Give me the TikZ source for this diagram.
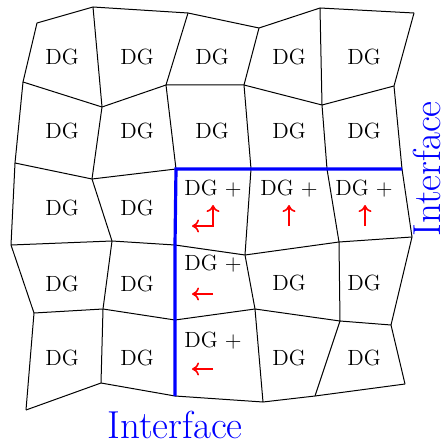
\documentclass[tikz,border=0pt]{standalone}
\usetikzlibrary{arrows.meta}
\begin{document}
\begin{tikzpicture}[x=0.5pt,y=-0.5pt,
  gridline/.style={line width=0.5pt, line join=round},
  iface/.style={blue, line width=1.6pt, line join=miter},
  dg/.style={font=\fontsize{11}{13}\selectfont, inner sep=0pt},
  lbl/.style={blue, font=\fontsize{19.5}{22}\selectfont, inner sep=0pt},
  flux/.style={red, line width=0.8pt, -{Computer Modern Rightarrow[length=3.5pt,width=6.5pt]}},
  fluxboth/.style={red, line width=0.8pt, {Computer Modern Rightarrow[length=3.5pt,width=6.5pt]}-{Computer Modern Rightarrow[length=3.5pt,width=6.5pt]}}
]
\useasboundingbox (0,0) rectangle (444,444);
% vertices
\coordinate (v00) at (37,23);  \coordinate (v10) at (93,7);   \coordinate (v20) at (188,13);
\coordinate (v30) at (259,28); \coordinate (v40) at (320,8);  \coordinate (v50) at (414,13);
\coordinate (v01) at (23,82);  \coordinate (v11) at (102,107);\coordinate (v21) at (166,85);
\coordinate (v31) at (244,85); \coordinate (v41) at (322,105);\coordinate (v51) at (394,86);
\coordinate (v02) at (15,163); \coordinate (v12) at (92,179); \coordinate (v22) at (176,169);
\coordinate (v32) at (251,169);\coordinate (v42) at (327,169);\coordinate (v52) at (402,169);
\coordinate (v03) at (11,245); \coordinate (v13) at (112,241);\coordinate (v23) at (175,245);
\coordinate (v33) at (245,255);\coordinate (v43) at (339,242);\coordinate (v53) at (412,237);
\coordinate (v04) at (34,313); \coordinate (v14) at (103,309);\coordinate (v24) at (175,320);
\coordinate (v34) at (255,309);\coordinate (v44) at (340,321);\coordinate (v54) at (391,325);
\coordinate (v05) at (26,410); \coordinate (v15) at (101,383);\coordinate (v25) at (175,396);
\coordinate (v35) at (263,402);\coordinate (v45) at (315,396);\coordinate (v55) at (405,384);
% grid lines
\foreach \j in {0,...,5} {
  \draw[gridline] (v0\j) -- (v1\j) -- (v2\j) -- (v3\j) -- (v4\j) -- (v5\j);
}
\foreach \i in {0,...,5} {
  \draw[gridline] (v\i0) -- (v\i1) -- (v\i2) -- (v\i3) -- (v\i4) -- (v\i5);
}
% interface
\draw[iface] (v25) -- (v24) -- (v23) -- (v22) -- (v32) -- (v42) -- (v52);
% DG labels
\node[dg] (c00) at (62,57) {DG};  \node[dg] (c10) at (137,57) {DG}; \node[dg] (c20) at (212,57) {DG};
\node[dg] (c30) at (289,57) {DG}; \node[dg] (c40) at (364,57) {DG};
\node[dg] (c01) at (62,131) {DG}; \node[dg] (c11) at (137,131) {DG}; \node[dg] (c21) at (212,131) {DG};
\node[dg] (c31) at (289,131) {DG}; \node[dg] (c41) at (364,131) {DG};
\node[dg] (c02) at (62,208) {DG}; \node[dg] (c12) at (137,208) {DG};
\node[dg] (c22) at (213,189) {DG +}; \node[dg] (c32) at (289,189) {DG +}; \node[dg] (c42) at (364,189) {DG +};
\node[dg] (c03) at (62,284) {DG}; \node[dg] (c13) at (137,284) {DG};
\node[dg] (c23) at (213,264) {DG +};
\node[dg] (c33) at (289,283) {DG}; \node[dg] (c43) at (364,283) {DG};
\node[dg] (c04) at (62,358) {DG}; \node[dg] (c14) at (137,358) {DG};
\node[dg] (c24) at (213,341) {DG +};
\node[dg] (c34) at (289,358) {DG}; \node[dg] (c44) at (364,358) {DG};
% red flux arrows
\coordinate (a22l) at (192,226); \coordinate (a22c) at (213,226); \coordinate (a22u) at (213,205);
\draw[fluxboth] (a22l) -- (a22c) -- (a22u);
\coordinate (a32s) at (289,226); \coordinate (a32e) at (289,205);
\draw[flux] (a32s) -- (a32e);
\coordinate (a42s) at (365,226); \coordinate (a42e) at (365,205);
\draw[flux] (a42s) -- (a42e);
\coordinate (a23s) at (213,294); \coordinate (a23e) at (192,294);
\draw[flux] (a23s) -- (a23e);
\coordinate (a24s) at (213,369); \coordinate (a24e) at (192,369);
\draw[flux] (a24s) -- (a24e);
% interface labels
\node[lbl, anchor=base] (ib) at (175,438) {Interface};
\node[lbl, anchor=base, rotate=90] (ir) at (440,169) {Interface};
\end{tikzpicture}
\end{document}
